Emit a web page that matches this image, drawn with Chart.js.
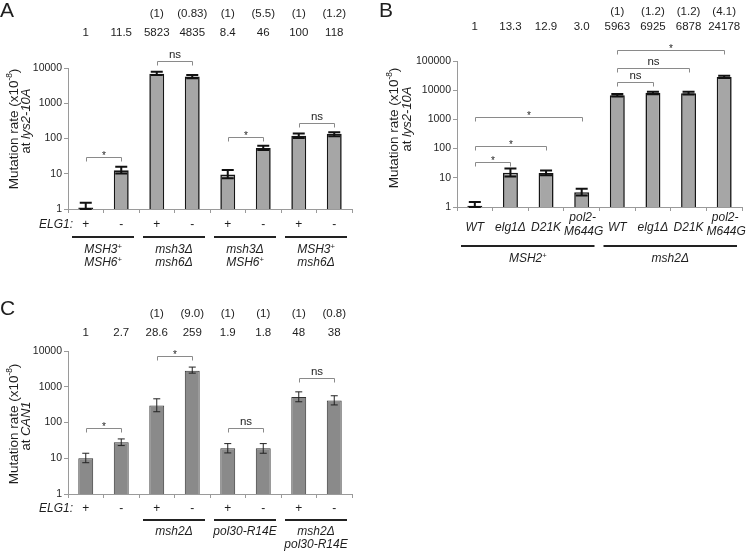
<!DOCTYPE html>
<html><head><meta charset="utf-8">
<script src="https://cdn.jsdelivr.net/npm/chart.js@4.4.1/dist/chart.umd.min.js"></script>
<style>
html,body{margin:0;padding:0;background:#fff;width:756px;height:556px;overflow:hidden;position:relative}
canvas{position:absolute;display:block}
</style></head><body>
<canvas id="cA" width="378" height="290" style="left:0;top:0"></canvas>
<canvas id="cB" width="378" height="290" style="left:378px;top:0"></canvas>
<canvas id="cC" width="378" height="266" style="left:0;top:290px"></canvas>
<script>
const FONT = '"Liberation Sans", Arial, Helvetica, sans-serif';
const TXT = '#1e1e1e';

// ---------- Panel A: mutation rate at lys2-10A ----------
const catsA = ['MSH3+MSH6+ ELG1+','MSH3+MSH6+ elg1','msh3 msh6 ELG1+','msh3 msh6 elg1','msh3 MSH6+ ELG1+','msh3 MSH6+ elg1','MSH3+ msh6 ELG1+','MSH3+ msh6 elg1'];
const valuesA = [1.1, 12.5, 6900, 5700, 9.5, 54, 119, 136];
const errLoA  = [1.0, 10.2, 6300, 5100, 7.4, 47, 104, 116];
const errHiA  = [1.5, 15.8, 7800, 6300, 12.7, 62, 138, 150];
const relA    = ['1','11.5','5823','4835','8.4','46','100','118'];
const foldA   = ['','','(1)','(0.83)','(1)','(5.5)','(1)','(1.2)'];
const elgA    = ['+','-','+','-','+','-','+','-'];
const groupsA = [{from:0,to:1,lines:['MSH3^{+}','MSH6^{+}']},{from:2,to:3,lines:['msh3Δ','msh6Δ']},{from:4,to:5,lines:['msh3Δ','MSH6^{+}']},{from:6,to:7,lines:['MSH3^{+}','msh6Δ']}];
const sigA    = [[0,1,30,'*'],[2,3,15800,'ns'],[4,5,110,'*'],[6,7,275,'ns']];
const yTicksA = [1,10,100,1000,10000];

// ---------- Panel B ----------
const catsB = ['MSH2+ WT','MSH2+ elg1','MSH2+ D21K','MSH2+ pol2-M644G','msh2 WT','msh2 elg1','msh2 D21K','msh2 pol2-M644G'];
const valuesB = [1.1, 15, 14.5, 3.2, 6760, 8100, 7900, 28400];
const errLoB  = [1.0, 11, 12.3, 2.5, 6100, 7300, 7100, 26000];
const errHiB  = [1.48, 21, 17.8, 4.2, 7400, 8900, 8800, 31000];
const relB    = ['1','13.3','12.9','3.0','5963','6925','6878','24178'];
const foldB   = ['','','','','(1)','(1.2)','(1.2)','(4.1)'];
const xLabB   = [['WT'],['elg1Δ'],['D21K'],['pol2-','M644G'],['WT'],['elg1Δ'],['D21K'],['pol2-','M644G']];
const groupsB = [{from:0,to:3,lines:['MSH2^{+}']},{from:4,to:7,lines:['msh2Δ']}];
const sigB    = [[0,1,35,'*'],[0,2,125,'*'],[0,3,1200,'*'],[4,5,19000,'ns'],[4,6,58000,'ns'],[4,7,240000,'*']];
const yTicksB = [1,10,100,1000,10000,100000];

// ---------- Panel C: mutation rate at CAN1 ----------
const catsC = ['WT ELG1+','WT elg1','msh2 ELG1+','msh2 elg1','pol30 ELG1+','pol30 elg1','msh2 pol30 ELG1+','msh2 pol30 elg1'];
const valuesC = [10, 28, 300, 2800, 19, 19, 520, 410];
const errLoC  = [7.5, 22.6, 200, 2400, 14.1, 13.8, 380, 310];
const errHiC  = [13.8, 34.7, 460, 3550, 25.7, 25.7, 720, 560];
const relC    = ['1','2.7','28.6','259','1.9','1.8','48','38'];
const foldC   = ['','','(1)','(9.0)','(1)','(1)','(1)','(0.8)'];
const elgC    = ['+','-','+','-','+','-','+','-'];
const groupsC = [{from:2,to:3,lines:['msh2Δ']},{from:4,to:5,lines:['pol30-R14E']},{from:6,to:7,lines:['msh2Δ','pol30-R14E']}];
const sigC    = [[0,1,70,'*'],[2,3,7250,'*'],[4,5,70,'ns'],[6,7,1760,'ns']];
const yTicksC = [1,10,100,1000,10000];

// ---------- rich text helpers ----------
function parseRich(s){
  const segs=[]; const re=/(\^|~)\{([^}]*)\}/g; let last=0, m;
  while((m=re.exec(s))){
    if(m.index>last) segs.push({t:s.slice(last,m.index)});
    segs.push(m[1]==='^'?{t:m[2],sup:true}:{t:m[2],it:true});
    last=re.lastIndex;
  }
  if(last<s.length) segs.push({t:s.slice(last)});
  return segs;
}
function fnt(size, it){ return (it?'italic ':'')+size+'px '+FONT; }
function drawRich(ctx, s, x, y, size, italic, align){
  const segs=parseRich(s);
  let W=0;
  segs.forEach(g=>{ const sz=g.sup?size*0.62:size; ctx.font=fnt(sz, italic||g.it); g.w=ctx.measureText(g.t).width; g.sz=sz; W+=g.w; });
  let cx = align==='center'? x-W/2 : align==='right'? x-W : x;
  const base = y + size*0.36;
  ctx.textAlign='left'; ctx.textBaseline='alphabetic';
  segs.forEach(g=>{ ctx.font=fnt(g.sz, italic||g.it); ctx.fillText(g.t, cx, g.sup? base-size*0.4 : base); cx+=g.w; });
}

function overlay(p){
  return { id:'ov'+p.key, afterDraw(chart){
    const ctx=chart.ctx, xs=chart.scales.x, ys=chart.scales.y, ca=chart.chartArea;
    const n=p.values.length, half=(ca.right-ca.left)/n/2;
    const cx=i=>xs.getPixelForValue(i);
    ctx.save();
    // error bars
    ctx.strokeStyle=p.errColor; ctx.lineWidth=p.errWidth;
    for(let i=0;i<n;i++){
      const x=cx(i), yh=ys.getPixelForValue(p.errHi[i]), yl=Math.min(ys.getPixelForValue(p.errLo[i]), ca.bottom);
      ctx.beginPath();
      ctx.moveTo(x,yh); ctx.lineTo(x,yl);
      ctx.moveTo(x-p.cap,yh); ctx.lineTo(x+p.cap,yh);
      ctx.moveTo(x-p.cap,yl); ctx.lineTo(x+p.cap,yl);
      ctx.stroke();
    }
    // significance brackets
    ctx.strokeStyle='#8a8a8a'; ctx.lineWidth=1; ctx.fillStyle=TXT;
    p.sig.forEach(([i,j,lv,lab])=>{
      const x1=Math.round(cx(i))+0.5, x2=Math.round(cx(j))+0.5, y=Math.round(ys.getPixelForValue(lv))+0.5;
      ctx.beginPath(); ctx.moveTo(x1,y+4); ctx.lineTo(x1,y); ctx.lineTo(x2,y); ctx.lineTo(x2,y+4); ctx.stroke();
      ctx.font=fnt(lab==='*'?10:11.5,false); ctx.textAlign='center'; ctx.textBaseline='alphabetic';
      ctx.fillText(lab,(x1+x2)/2, lab==='*'? y+1 : y-4);
    });
    // top numbers
    ctx.fillStyle=TXT;
    for(let i=0;i<n;i++){
      ctx.font=fnt(11.5,false); ctx.textAlign='center'; ctx.textBaseline='middle';
      if(p.fold[i]) ctx.fillText(p.fold[i], cx(i), p.foldY);
      ctx.fillText(p.rel[i], cx(i), p.relY);
    }
    // panel letter
    ctx.font='21px '+FONT; ctx.textAlign='left'; ctx.textBaseline='alphabetic';
    ctx.fillText(p.letter, p.letterX, p.letterY);
    // y title
    ctx.save(); ctx.translate(p.title1X, p.title1Y); ctx.rotate(-Math.PI/2);
    drawRich(ctx, p.title1, 0, 0, 13.5, false, 'center'); ctx.restore();
    ctx.save(); ctx.translate(p.title2X, p.title2Y); ctx.rotate(-Math.PI/2);
    drawRich(ctx, p.title2, 0, 0, 13, false, 'center'); ctx.restore();
    // ELG1 row
    if(p.elg){
      drawRich(ctx,'ELG1:', ca.left+5, p.elgY, 12, true, 'right');
      for(let i=0;i<n;i++) drawRich(ctx, p.elg[i], cx(i), p.elgY, 12, false, 'center');
    }
    // x labels (panel B)
    if(p.xlab){
      for(let i=0;i<n;i++){
        const L=p.xlab[i];
        if(L.length===1) drawRich(ctx, L[0], cx(i), p.xlabY, 12, true, 'center');
        else { drawRich(ctx, L[0], cx(i)+1, p.xlabY-10, 12, true, 'center'); drawRich(ctx, L[1], cx(i)+2, p.xlabY+4, 12, true, 'center'); }
      }
    }
    // groups
    p.groups.forEach(g=>{
      const a=cx(g.from)-half+4, b=cx(g.to)+half-5;
      ctx.strokeStyle='#222'; ctx.lineWidth=2;
      ctx.beginPath(); ctx.moveTo(a,p.groupLineY); ctx.lineTo(b,p.groupLineY); ctx.stroke();
      g.lines.forEach((t,k)=> drawRich(ctx, t, (a+b)/2, p.groupTextY+k*13, 12, true, 'center'));
    });
    ctx.restore();
  }};
}

function build(id, cats, p){
  const cv=document.getElementById(id);
  const W=cv.width, H=cv.height;
  return new Chart(cv, {
    type:'bar',
    data:{labels:cats, datasets:[{data:p.values, backgroundColor:p.fill, borderColor:p.border, borderWidth:p.bw, barPercentage:0.42, categoryPercentage:1}]},
    options:{
      responsive:false, animation:false, devicePixelRatio:1,
      layout:{padding:{top:p.area.top, right:W-p.area.right, bottom:0, left:0}},
      plugins:{legend:{display:false}, tooltip:{enabled:false}},
      scales:{
        x:{type:'category', offset:true, ticks:{display:false},
           grid:{drawOnChartArea:false, drawTicks:true, tickLength:4, offset:true, color:'#9a9a9a'},
           border:{display:true, color:'#9a9a9a', width:1},
           afterFit(s){ s.height = H - p.area.bottom; }},
        y:{type:'logarithmic', min:1, max:p.yTicks[p.yTicks.length-1],
           afterBuildTicks(s){ s.ticks = p.yTicks.map(v=>({value:v})); },
           ticks:{callback:v=>String(v), font:{family:FONT, size:10.5}, color:TXT, padding:2, autoSkip:false},
           grid:{drawOnChartArea:false, drawTicks:true, tickLength:4, color:'#9a9a9a'},
           border:{display:true, color:'#9a9a9a', width:1},
           afterFit(s){ s.width = p.area.left; }}
      }
    },
    plugins:[overlay(p)]
  });
}

build('cA', catsA, {key:'A', values:valuesA, errLo:errLoA, errHi:errHiA, rel:relA, fold:foldA, elg:elgA, groups:groupsA, sig:sigA, yTicks:yTicksA,
  fill:'#a6a6a6', border:'#161616', bw:1.6, errColor:'#111', errWidth:2, cap:6,
  area:{left:68, top:68, right:352, bottom:209}, foldY:14, relY:33, letter:'A', letterX:0, letterY:17,
  title1:'Mutation rate (x10^{-8})', title2:'at ~{lys2-10A}', title1X:13, title2X:25, title1Y:129, title2Y:121,
  elgY:224, groupLineY:237, groupTextY:249});

build('cB', catsB, {key:'B', values:valuesB, errLo:errLoB, errHi:errHiB, rel:relB, fold:foldB, xlab:xLabB, xlabY:227, groups:groupsB, sig:sigB, yTicks:yTicksB,
  fill:'#a6a6a6', border:'#161616', bw:1.6, errColor:'#111', errWidth:2, cap:6,
  area:{left:79, top:61, right:364, bottom:207}, foldY:12, relY:27, letter:'B', letterX:1, letterY:17,
  title1:'Mutation rate (x10^{-8})', title2:'at ~{lys2-10A}', title1X:15, title2X:28, title1Y:128, title2Y:119,
  groupLineY:246, groupTextY:258});

build('cC', catsC, {key:'C', values:valuesC, errLo:errLoC, errHi:errHiC, rel:relC, fold:foldC, elg:elgC, groups:groupsC, sig:sigC, yTicks:yTicksC,
  fill:'#8a8a8a', border:'#333', bw:1, errColor:'#222', errWidth:1, cap:3.5,
  area:{left:68, top:61, right:352, bottom:204}, foldY:24, relY:43, letter:'C', letterX:0, letterY:25,
  title1:'Mutation rate (x10^{-8})', title2:'at ~{CAN1}', title1X:13, title2X:25, title1Y:134, title2Y:136,
  elgY:218, groupLineY:230, groupTextY:241});
</script>
</body></html>
